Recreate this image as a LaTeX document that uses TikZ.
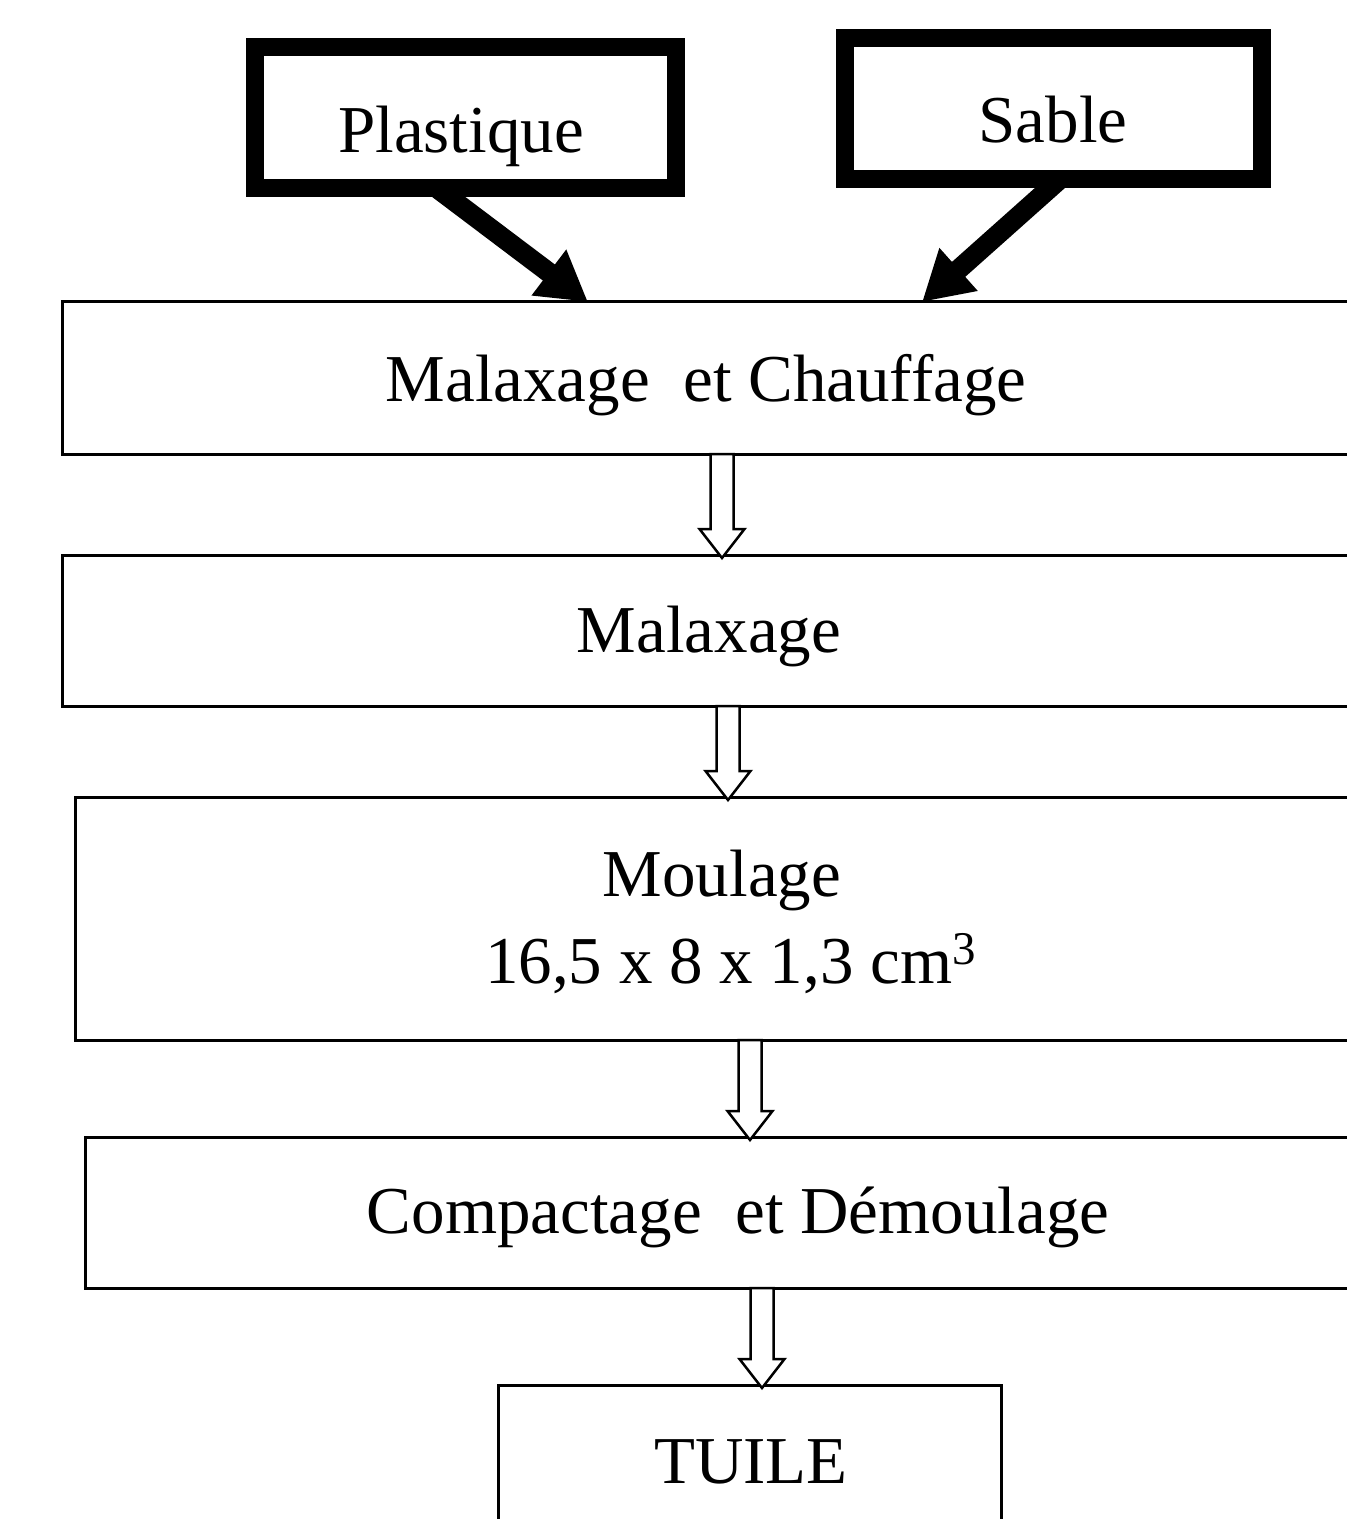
\documentclass[tikz,border=0pt]{standalone}
\usepackage{fontspec}
\setmainfont{Liberation Serif}
\usetikzlibrary{arrows.meta,calc}
\tikzset{
  stepbox/.style={draw=black, line width=1.5pt, rectangle, inner sep=0pt, outer sep=0pt, fill=none},
  inbox/.style={draw=black, line width=9pt, rectangle, inner sep=0pt, outer sep=0pt},
  lbl/.style={anchor=base, inner sep=0pt, outer sep=0pt, font=\fontsize{33.5}{40}\selectfont},
  bigarrow/.style={draw=black, line width=10pt, -{Triangle[length=24.5pt,width=27pt]}},
  hollowarrow/.style={draw=black, line width=1.25pt, fill=white, line join=miter},
}
\newcommand\blockarrow[4]{%
  \path (#3,0) coordinate (#4x);
  \path (#1.south -| #4x) coordinate (#4t) (#2.north -| #4x) coordinate (#4h);
  \draw[hollowarrow] ([shift={(-11.5,0)}]#4t) -- ([shift={(-11.5,-26)}]#4h)
    -- ([shift={(-22.5,-26)}]#4h) -- ([shift={(0,3)}]#4h)
    -- ([shift={(22.5,-26)}]#4h) -- ([shift={(11.5,-26)}]#4h)
    -- ([shift={(11.5,0)}]#4t) -- cycle;
}
\begin{document}
\begin{tikzpicture}[x=0.5pt,y=-0.5pt]
\useasboundingbox (0,0) rectangle (1347,1519);
% input boxes
\node[inbox, anchor=north west, minimum width=210.5pt, minimum height=70.5pt] (pl) at (255,47.5) {};
\node[inbox, anchor=north west, minimum width=208.5pt, minimum height=70.25pt] (sa) at (845,38.5) {};
% process boxes
\node[stepbox, anchor=north west, minimum width=645pt, minimum height=76pt] (b1) at (62,302) {};
\node[stepbox, anchor=north west, minimum width=647pt, minimum height=75.5pt] (b2) at (62,555) {};
\node[stepbox, anchor=north west, minimum width=648pt, minimum height=121.5pt] (b3) at (75,797) {};
\node[stepbox, anchor=north west, minimum width=650pt, minimum height=75.5pt] (b4) at (85,1137) {};
\node[stepbox, anchor=north west, minimum width=251.5pt, minimum height=100pt] (b5) at (498,1385) {};
% labels
\node[lbl] (tpl) at (461,153) {Plastique};
\node[lbl] (tsa) at (1053,143) {Sable};
\node[lbl] (t1) at (706,401) {Malaxage\hspace{0.5em}et Chauffage};
\node[lbl] (t2) at (709,652) {Malaxage};
\node[lbl] (t3a) at (722,896) {Moulage};
\node[lbl] (t3b) at (731,983) {16,5 x 8 x 1,3 cm\textsuperscript{3}};
\node[lbl] (t4) at (738,1233) {Compactage\hspace{0.5em}et Démoulage};
\node[lbl] (t5) at (751,1483) {TUILE};
% thick input arrows
\draw[bigarrow] ([xshift=-14pt]pl.south) -- ([xshift=-59.5pt]b1.north);
\draw[bigarrow] ([xshift=3.25pt]sa.south) -- ([xshift=107.5pt]b1.north);
% hollow block arrows
\blockarrow{b1}{b2}{722}{aa}
\blockarrow{b2}{b3}{728}{ab}
\blockarrow{b3}{b4}{750}{ac}
\blockarrow{b4}{b5}{762}{ad}
\end{tikzpicture}
\end{document}
